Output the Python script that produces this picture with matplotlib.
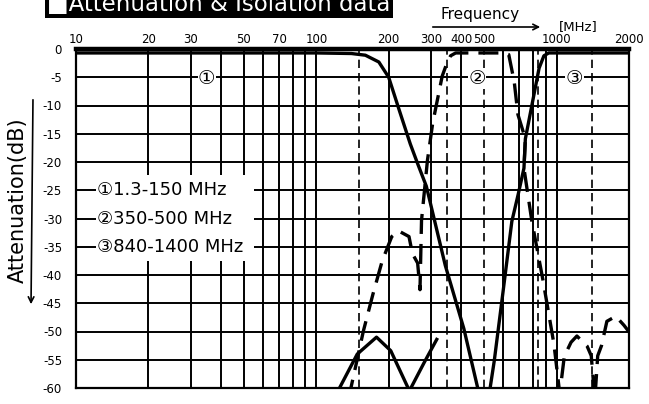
import numpy as np
import matplotlib
matplotlib.use("Agg")
import matplotlib.pyplot as plt
from matplotlib.patches import Rectangle

plt.rcParams['font.family'] = ['DejaVu Sans', 'Noto Sans CJK JP']

# curve 1 : 1.3-150 MHz low pass (solid)
f1 = [10, 100, 140, 160, 182, 200, 222, 246, 264, 287, 344, 411, 470, 490]
a1 = [-0.7, -0.7, -0.8, -1.1, -2.3, -5.0, -11.0, -16.8, -20.3, -24.3, -38.3, -49.5, -60.1, -64]

# curve 2 : 350-500 MHz band pass (dashed)
f2 = [136, 157, 172, 188, 206, 220, 243, 251, 264, 270, 274, 290, 305, 334, 346, 362, 380,
      600, 632, 666, 690, 741, 731, 788, 877, 975, 1030, 1076, 1148, 1214, 1339, 1393, 1442,
      1482, 1537, 1618, 1762, 1906, 2063]
a2 = [-62, -49.9, -43.4, -37.5, -33.2, -32.2, -33.2, -36.2, -37.9, -42.6, -30.3, -19.7, -13.1,
      -4.8, -3.0, -1.2, -0.7, -0.7, -1.0, -5.8, -11.6, -15.9, -21.1, -30.4, -40.9, -52.3, -61,
      -54.4, -51.9, -50.8, -52.6, -54.3, -62, -54.3, -52.5, -48.2, -47.3, -48.9, -50.8]

# curve 3 : 840-1400 MHz band pass (solid), low side stop band ripple
f3_low = [118, 148, 178, 204, 244, 281, 317]
a3_low = [-62, -54.0, -51.0, -53.4, -60.5, -55.5, -51.4]
f3 = [520, 550, 599, 651, 692, 731, 741, 795, 845, 885, 927, 1000, 2000]
a3 = [-62, -55.2, -42.8, -30.5, -25.7, -21.1, -15.9, -9.2, -3.4, -1.2, -0.7, -0.7, -0.7]

x_labels = [10, 20, 30, 50, 70, 100, 200, 300, 400, 500, 1000, 2000]
grid_solid = [20, 30, 40, 50, 60, 70, 80, 90, 100, 200, 300, 400, 600, 700, 800, 900, 1000]
grid_dash = [150, 350, 500, 840, 1400]
y_ticks = list(range(0, -65, -5))

legend_txt = ["\u24601.3-150 MHz", "\u2461350-500 MHz", "\u2462840-1400 MHz"]
legend_y = [-25, -30, -35]

W, H = 649, 404
fig = plt.figure(figsize=(W / 100, H / 100), dpi=100)
ax = fig.add_axes([76 / W, 1 - 388 / H, 553 / W, 339 / H])

def px(x, y):
    return (x / W, 1 - y / H)

ax.set_xscale('log')
ax.set_xlim(10, 2000)
ax.set_ylim(-60, 0)

for y in y_ticks[1:-1]:
    ax.axhline(y, color='black', lw=1.4, zorder=1)
for x in grid_solid:
    ax.axvline(x, color='black', lw=1.4, zorder=1)
for x in grid_dash:
    ax.axvline(x, color='black', lw=1.2, ls=(0, (5, 3)), zorder=1)

# white area behind the band list
ax.add_patch(Rectangle((12.2, -37.5), 55 - 12.2, 15.2, facecolor='white', edgecolor='none', zorder=2))

ax.plot(f1, a1, color='black', lw=2.4, zorder=3)
ax.plot(f2, a2, color='black', lw=2.4, ls=(0, (6, 3)), zorder=3)
ax.plot(f3_low, a3_low, color='black', lw=2.4, zorder=3)
ax.plot(f3, a3, color='black', lw=2.4, zorder=3)

for t, y in zip(legend_txt, legend_y):
    ax.text(12.2, y, t, fontsize=13, va='center', ha='left', zorder=5,
            bbox=dict(facecolor='white', edgecolor='none', pad=0.5))

for t, x in zip(["\u2460", "\u2461", "\u2462"], [35, 466, 1186]):
    ax.text(x, -5.3, t, fontsize=14, va='center', ha='center', zorder=5,
            bbox=dict(facecolor='white', edgecolor='none', pad=0.3))

ax.xaxis.set_ticks_position('top')
ax.set_xticks(x_labels)
ax.set_xticklabels([str(v) for v in x_labels])
ax.xaxis.set_minor_locator(matplotlib.ticker.NullLocator())
ax.tick_params(axis='x', length=0, pad=2.5, labelsize=8.5)
ax.set_yticks(y_ticks)
ax.set_yticklabels([str(v) for v in y_ticks])
ax.tick_params(axis='y', length=0, pad=10, labelsize=8.5)

for s in ['left', 'right', 'bottom']:
    ax.spines[s].set_linewidth(1.6)
ax.spines['top'].set_linewidth(3.2)

# title bar (cut at the top like the scan)
fig.text(*px(47, 11), "\u25a0Attenuation & Isolation data", color='white', fontsize=16.5,
         va='baseline', ha='left', bbox=dict(facecolor='black', edgecolor='none', boxstyle='square,pad=0.1'))

fig.text(*px(480, 14), "Frequency", fontsize=11, ha='center', va='center')
ax.annotate("", xy=px(543, 27), xytext=px(430, 27), xycoords='figure fraction',
            arrowprops=dict(arrowstyle='->', lw=1.2, color='black'))
fig.text(*px(578, 27), "[MHz]", fontsize=9.5, ha='center', va='center')

fig.text(*px(18, 200), "Attenuation(dB)", fontsize=15, rotation=90, ha='center', va='center')
ax.annotate("", xy=px(31, 307), xytext=px(33, 97), xycoords='figure fraction',
            arrowprops=dict(arrowstyle='->', lw=1.2, color='black'))

fig.savefig("out.png", dpi=100)
